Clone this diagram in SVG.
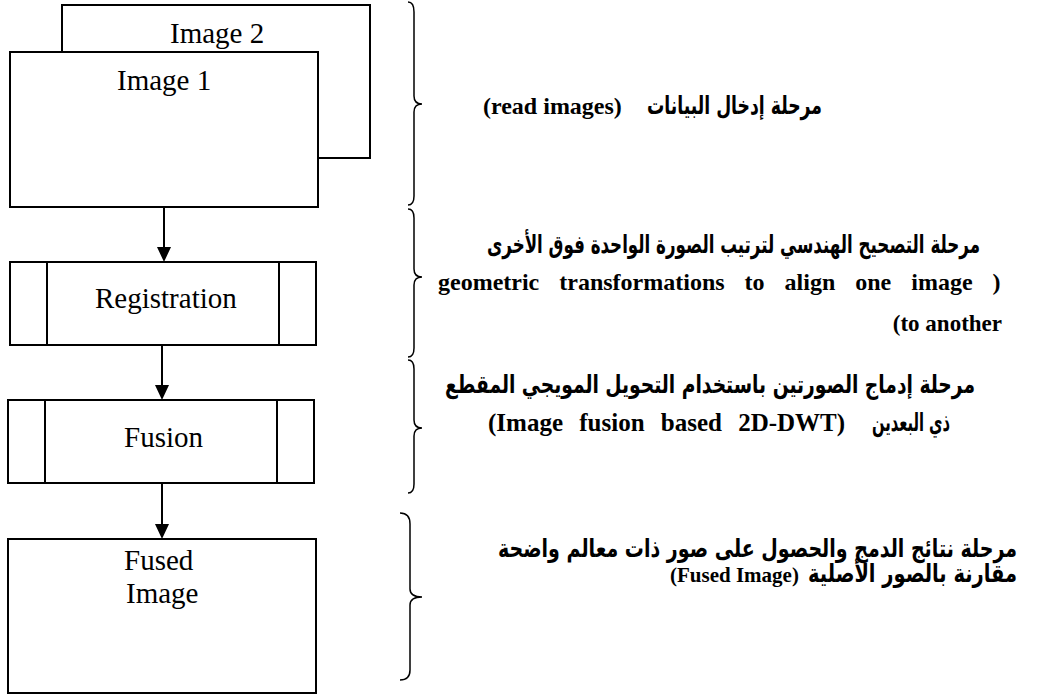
<svg xmlns="http://www.w3.org/2000/svg" width="1041" height="695" viewBox="0 0 1041 695">
<style>
.box{fill:#fff;stroke:#000;stroke-width:2}
.div{stroke:#000;stroke-width:2}
.lbl{font-family:"Liberation Serif","Times New Roman",serif;font-size:29px;fill:#000}
.brace{fill:none;stroke:#000;stroke-width:1.5}
.ar{font-family:"DejaVu Sans",sans-serif;font-weight:bold;font-size:21px;fill:#000}
.en{font-family:"Liberation Serif","Times New Roman",serif;font-weight:bold;fill:#000}
.conn{stroke:#000;stroke-width:2;fill:none}
.head{fill:#000}
</style>
<rect width="1041" height="695" fill="#fff"/>
<g id="image2">
<rect class="box" x="62" y="5" width="308" height="153"/>
<text class="lbl" x="170" y="43">Image 2</text>
</g>
<g id="image1">
<rect class="box" x="10" y="52" width="308" height="155"/>
<text class="lbl" x="117" y="90">Image 1</text>
</g>
<g id="registration">
<rect class="box" x="10" y="262" width="306" height="83"/>
<line class="div" x1="47" y1="262" x2="47" y2="345"/>
<line class="div" x1="279" y1="262" x2="279" y2="345"/>
<text class="lbl" x="95" y="308">Registration</text>
</g>
<g id="fusion">
<rect class="box" x="8" y="400" width="306" height="83"/>
<line class="div" x1="45" y1="400" x2="45" y2="483"/>
<line class="div" x1="277" y1="400" x2="277" y2="483"/>
<text class="lbl" x="124" y="447">Fusion</text>
</g>
<g id="fused">
<rect class="box" x="8" y="539" width="308" height="154"/>
<text class="lbl" x="124" y="570">Fused</text>
<text class="lbl" x="126" y="603">Image</text>
</g>
<g id="connectors">
<line class="conn" x1="164" y1="208" x2="164" y2="248"/>
<path class="head" d="M157,247 L171,247 L164,262 Z"/>
<line class="conn" x1="162" y1="346" x2="162" y2="386"/>
<path class="head" d="M155,385 L169,385 L162,400 Z"/>
<line class="conn" x1="162" y1="484" x2="162" y2="525"/>
<path class="head" d="M155,524 L169,524 L162,539 Z"/>
</g>
<g id="braces">
<path class="brace" d="M408,2 Q414,2 414,12 L414,96 Q414,104 422,104 Q414,104 414,112 L414,196 Q414,205 408,205"/>
<path class="brace" d="M408,209 Q414,209 414,218 L414,269 Q414,277 422,277 Q414,277 414,285 L414,348 Q414,357 408,357"/>
<path class="brace" d="M408,360 Q414,360 414,369 L414,420 Q414,428 422,428 Q414,428 414,436 L414,484 Q414,493 408,493"/>
<path class="brace" d="M400,513 Q410,513 410,524 L410,589 Q410,597 422,597 Q410,597 410,605 L410,670 Q410,680 400,680"/>
</g>
<g id="stage1">
<text class="ar" transform="matrix(1 0 0 1.2 0 114)" x="647" y="0" textLength="175" lengthAdjust="spacingAndGlyphs">مرحلة إدخال البيانات</text>
<text class="en" x="483" y="114" style="font-size:24px">(read images)</text>
</g>
<g id="stage2">
<text class="ar" transform="matrix(1 0 0 1.2 0 253)" x="487" y="0" textLength="493" lengthAdjust="spacingAndGlyphs">مرحلة التصحيح الهندسي لترتيب الصورة الواحدة فوق الأخرى</text>
<text class="en" x="438" y="290" style="font-size:24px;word-spacing:14px">geometric transformations to align one image )</text>
<text class="en" x="1002" y="331" text-anchor="end" style="font-size:23px">(to another</text>
</g>
<g id="stage3">
<text class="ar" transform="matrix(1 0 0 1.2 0 393)" x="445" y="0" textLength="530" lengthAdjust="spacingAndGlyphs">مرحلة إدماج الصورتين باستخدام التحويل المويجي المقطع</text>
<text class="ar" transform="matrix(1 0 0 1.2 0 431)" x="872" y="0" textLength="78" lengthAdjust="spacingAndGlyphs">ذي البعدين</text>
<text class="en" x="488" y="431" style="font-size:25px;word-spacing:10px">(Image fusion based 2D-DWT)</text>
</g>
<g id="stage4">
<text class="ar" transform="matrix(1 0 0 1.2 0 557)" x="498" y="0" textLength="519" lengthAdjust="spacingAndGlyphs">مرحلة نتائج الدمج والحصول على صور ذات معالم واضحة</text>
<text class="ar" transform="matrix(1 0 0 1.2 0 582)" x="808" y="0" textLength="209" lengthAdjust="spacingAndGlyphs">مقارنة بالصور الأصلية</text>
<text class="en" x="670" y="582" style="font-size:21px">(Fused Image)</text>
</g>
</svg>
